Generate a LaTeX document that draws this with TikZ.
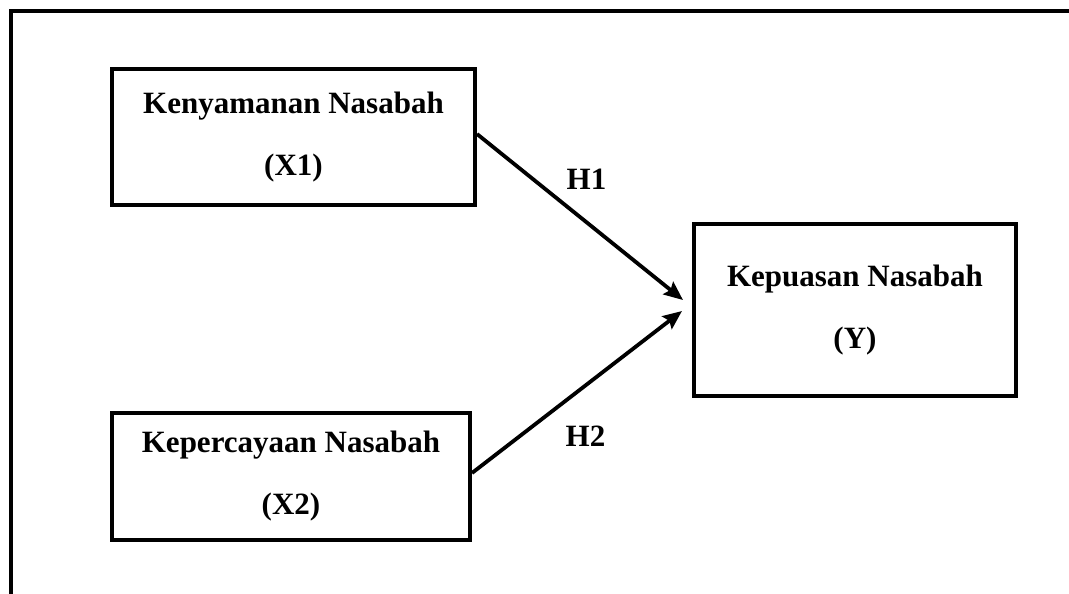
\documentclass[tikz,border=0pt]{standalone}
\usepackage{fontspec}
\setmainfont{Liberation Serif}
\usetikzlibrary{arrows.meta}
\begin{document}
\begin{tikzpicture}[x=1pt,y=-1pt,
  varbox/.style={draw,line width=4pt,align=center,inner sep=0pt,
    font=\fontsize{31}{62}\selectfont\bfseries},
  hyplabel/.style={anchor=base,inner sep=0pt,font=\fontsize{31}{37}\selectfont\bfseries},
  hyparrow/.style={line width=3.8pt,-{Stealth[length=19pt,width=16pt,inset=3pt]}}]
\useasboundingbox (0,0) rectangle (1069,594);
\draw[line width=4pt,line join=miter] (10.6,594) -- (10.6,10.75) -- (1069,10.75);
\node[varbox,minimum width=363pt,minimum height=136pt] (x1) at (293.5,137)
  {Kenyamanan Nasabah\\(X1)};
\node[varbox,minimum width=358pt,minimum height=127pt] (x2) at (291,476.5)
  {Kepercayaan Nasabah\\(X2)};
\node[varbox,minimum width=322pt,minimum height=172pt] (y) at (855,310)
  {Kepuasan Nasabah\\(Y)};
\draw[hyparrow] ([yshift=3pt]x1.east) -- ([xshift=-9pt,yshift=10pt]y.west);
\draw[hyparrow] ([yshift=3.5pt]x2.east) -- ([xshift=-10pt,yshift=-1pt]y.west);
\node[hyplabel] (h1) at (586.5,189) {H1};
\node[hyplabel] (h2) at (585.5,446) {H2};
\end{tikzpicture}
\end{document}
